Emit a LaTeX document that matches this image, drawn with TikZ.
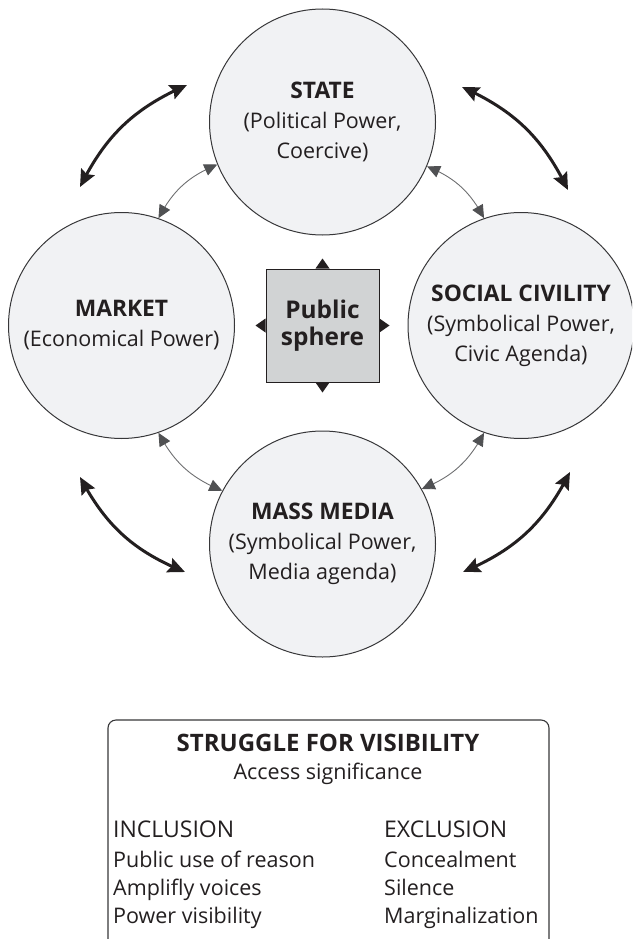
\documentclass[tikz,border=0pt]{standalone}
\usepackage{fontspec}
\setmainfont{Open Sans}
\usetikzlibrary{arrows.meta,bending}
\definecolor{circfill}{RGB}{241,242,244}
\definecolor{boxfill}{RGB}{209,211,212}
\definecolor{inkcol}{RGB}{35,31,32}
\definecolor{edgecol}{RGB}{55,55,57}
\definecolor{arcline}{RGB}{110,111,113}
\definecolor{arctip}{RGB}{80,81,83}
\newcommand{\ttl}[1]{{\fontsize{22.8}{30}\selectfont\bfseries #1}}
\tikzset{
  power/.style={circle, draw=edgecol, line width=1pt, fill=circfill, minimum size=226pt,
    inner sep=0pt, align=center, text=inkcol, font=\fontsize{21.5}{30}\selectfont},
  psbox/.style={rectangle, draw=inkcol, line width=1pt, fill=boxfill, minimum size=113pt,
    inner sep=0pt, align=center, text=inkcol, font=\fontsize{24.4}{26.5}\selectfont\bfseries},
  grayarc/.style={draw=arcline, line width=0.9pt,
    {Triangle[length=13pt,width=12pt,color=arctip,flex]}-{Triangle[length=13pt,width=12pt,color=arctip,flex]}},
  bigarrow/.style={draw=inkcol, line width=3pt,
    {Stealth[length=17pt,width=15pt,inset=2.5pt,flex]}-{Stealth[length=17pt,width=15pt,inset=2.5pt,flex]}},
  boxtxt/.style={inner sep=0pt, text=inkcol, font=\fontsize{21.5}{28}\selectfont},
  boxcap/.style={boxtxt, font=\fontsize{23}{28}\selectfont},
  pstip/.style={fill=inkcol}
}
\begin{document}
\begin{tikzpicture}[x=1pt,y=-1pt]
\useasboundingbox (0,0) rectangle (632,939);
\clip (0,0) rectangle (632,939);

% circles
\node[power] (st) at (322.5,122) {\ttl{STATE}\\(Political Power,\\Coercive)};
\node[power] (mk) at (121.5,325.5) {\ttl{MARKET}\\(Economical Power)};
\node[power] (sc) at (521,325.5) {\ttl{SOCIAL CIVILITY}\\(Symbolical Power,\\Civic Agenda)};
\node[power] (md) at (322.5,544) {\ttl{MASS MEDIA}\\(Symbolical Power,\\Media agenda)};

% public sphere
\node[psbox] (ps) at (322.5,325.5) {Public\\sphere};
\fill[pstip] ([xshift=-7pt]ps.north) -- ([xshift=7pt]ps.north) -- ([yshift=10pt]ps.north) -- cycle;
\fill[pstip] ([xshift=-7pt]ps.south) -- ([xshift=7pt]ps.south) -- ([yshift=-10pt]ps.south) -- cycle;
\fill[pstip] ([yshift=-7pt]ps.west) -- ([yshift=7pt]ps.west) -- ([xshift=-10pt]ps.west) -- cycle;
\fill[pstip] ([yshift=-7pt]ps.east) -- ([yshift=7pt]ps.east) -- ([xshift=10pt]ps.east) -- cycle;

% gray arcs
\draw[grayarc] (st.202) to[bend right=20] (mk.71);
\draw[grayarc] (st.337) to[bend left=20] (sc.109);
\draw[grayarc] (mk.289) to[bend right=20] (md.152);
\draw[grayarc] (sc.251) to[bend left=20] (md.29);

% thick arrows
\coordinate (tla) at (187,85);
\coordinate (tlb) at (80,187);
\coordinate (tra) at (462,87);
\coordinate (trb) at (568,190);
\coordinate (bra) at (570,472);
\coordinate (brb) at (463,572);
\coordinate (bla) at (80,477);
\coordinate (blb) at (185,572);
\draw[bigarrow] (tla) to[bend right=20] (tlb);
\draw[bigarrow] (tra) to[bend left=20] (trb);
\draw[bigarrow] (bra) to[bend left=20] (brb);
\draw[bigarrow] (bla) to[bend right=20] (blb);

% bottom box
\draw[draw=edgecol, line width=1.1pt, rounded corners=8pt] (108,960) -- (108,720) -- (549,720) -- (549,960);
\node[boxtxt, anchor=base, font=\fontsize{24}{28}\selectfont\bfseries] (sv) at (328,751) {STRUGGLE FOR VISIBILITY};
\node[boxtxt, anchor=base] (as) at (328,779) {Access significance};
\node[boxcap, anchor=base west] (inc) at (113,837) {INCLUSION};
\node[boxtxt, anchor=base west] (inc1) at (113,867) {Public use of reason};
\node[boxtxt, anchor=base west] (inc2) at (113,895) {Amplifly voices};
\node[boxtxt, anchor=base west] (inc3) at (113,923) {Power visibility};
\node[boxcap, anchor=base west] (exc) at (384,837) {EXCLUSION};
\node[boxtxt, anchor=base west] (exc1) at (384,867) {Concealment};
\node[boxtxt, anchor=base west] (exc2) at (384,895) {Silence};
\node[boxtxt, anchor=base west] (exc3) at (384,923) {Marginalization};
\end{tikzpicture}
\end{document}
